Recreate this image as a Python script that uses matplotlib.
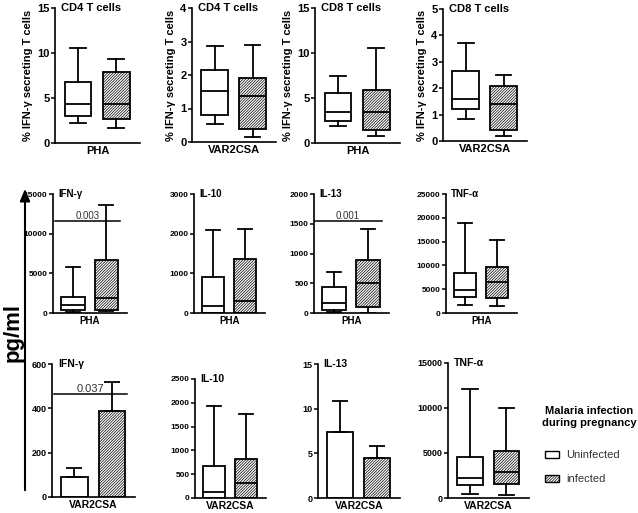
import matplotlib.pyplot as plt
from matplotlib.patches import Patch, FancyArrowPatch

plt.rcParams['font.family'] = ['Liberation Sans', 'DejaVu Sans']
plt.rcParams['font.weight'] = 'bold'
plt.rcParams['axes.labelweight'] = 'bold'
plt.rcParams['hatch.linewidth'] = 0.5

W, H = 638, 513
groups = ["Uninfected", "infected"]

# box stats per group: [whislo, q1, med, q3, whishi]
cd4_pha = [[2.2, 3.05, 4.3, 6.8, 10.6], [1.65, 2.7, 4.3, 7.9, 9.3]]
cd4_var = [[0.55, 0.82, 1.52, 2.15, 2.88], [0.15, 0.4, 1.38, 1.92, 2.9]]
cd8_pha = [[1.84, 2.43, 3.4, 5.5, 7.46], [0.77, 1.4, 3.4, 5.9, 10.5]]
cd8_var = [[0.82, 1.23, 1.59, 2.66, 3.72], [0.19, 0.43, 1.42, 2.1, 2.5]]

ifng_pha = [[130, 340, 970, 2000, 5800], [200, 420, 1890, 6700, 13600]]
il10_pha = [[0, 0, 180, 920, 2090], [0, 0, 290, 1360, 2110]]
il13_pha = [[11, 56, 168, 437, 684], [0, 95, 504, 885, 1417]]
tnfa_pha = [[1600, 3400, 4800, 8300, 19000], [1400, 3200, 6500, 9700, 15400]]

il10_var = [[0, 0, 127, 669, 1937], [0, 0, 324, 810, 1761]]
tnfa_var = [[480, 1400, 2200, 4600, 12100], [370, 1600, 2900, 5200, 10000]]

# bar panels: mean and upper error
ifng_var_mean = [88, 388]
ifng_var_err = [45, 132]
il13_var_mean = [7.4, 4.46]
il13_var_err = [3.5, 1.4]

# p-values and line height
sig_ifng_pha = ("0.003", 11600)
sig_il13_pha = ("0.001", 1552)
sig_ifng_var = ("0.037", 463)

HATCH = "////////////"

fig = plt.figure(figsize=(W / 100, H / 100), dpi=100)


def add_panel(left, right, top, bottom):
    return fig.add_axes([left / W, 1 - bottom / H, (right - left) / W, (bottom - top) / H])


def style(ax, ymax, yticks, title, xlabel, fs_tick, fs_lab, ylabel=None):
    ax.set_xlim(0.4, 2.62)
    ax.set_ylim(0, ymax)
    ax.set_yticks(yticks)
    ax.set_yticklabels([str(t) for t in yticks], fontweight="bold", fontsize=fs_tick)
    ax.set_xticks([])
    for s in ["top", "right"]:
        ax.spines[s].set_visible(False)
    for s in ["left", "bottom"]:
        ax.spines[s].set_linewidth(1.2)
    ax.tick_params(axis="y", length=3, width=1.1, pad=1)
    ax.set_xlabel(xlabel, fontsize=fs_lab, fontweight="bold", labelpad=2)
    ax.text(0.07, 1.0, title, transform=ax.transAxes, fontsize=fs_lab,
            fontweight="bold", ha="left", va="center")
    if ylabel:
        ax.set_ylabel(ylabel, fontsize=fs_lab, fontweight="bold", labelpad=3)
    ax.patch.set_alpha(0)


def draw_box(ax, data, width=0.7):
    stats = [dict(whislo=d[0], q1=d[1], med=d[2], q3=d[3], whishi=d[4], fliers=[])
             for d in data]
    parts = ax.bxp(stats, positions=[1, 2], widths=width, capwidths=0.42,
                   patch_artist=True, showfliers=False,
                   boxprops=dict(linewidth=1.3, edgecolor="black"),
                   whiskerprops=dict(linewidth=1.3),
                   capprops=dict(linewidth=1.3),
                   medianprops=dict(color="black", linewidth=1.3))
    parts["boxes"][0].set_facecolor("white")
    parts["boxes"][1].set_facecolor("white")
    parts["boxes"][1].set_hatch(HATCH)


def draw_bar(ax, mean, err, width=0.7):
    bars = ax.bar([1, 2], mean, width=width, color="white", edgecolor="black",
                  linewidth=1.3, yerr=[[0, 0], err], capsize=6,
                  error_kw=dict(elinewidth=1.3, capthick=1.3))
    bars[1].set_hatch(HATCH)


def draw_sig(ax, sig, x0, x1, fs):
    label, y = sig
    ax.plot([x0, x1], [y, y], color="black", lw=1.1)
    ax.text((x0 + x1) / 2, y, label, ha="center", va="bottom", fontsize=fs,
            fontweight="normal", color="#333333")


ylab = "% IFN-\u03b3 secreting T cells"

# top row
ax = add_panel(55, 140, 8, 143)
draw_box(ax, cd4_pha)
style(ax, 15, [0, 5, 10, 15], "CD4 T cells", "PHA", 8, 8, ylab)
ax = add_panel(192, 276, 8, 142)
draw_box(ax, cd4_var)
style(ax, 4, [0, 1, 2, 3, 4], "CD4 T cells", "VAR2CSA", 8, 8, ylab)
ax = add_panel(315, 400, 8, 143)
draw_box(ax, cd8_pha)
style(ax, 15, [0, 5, 10, 15], "CD8 T cells", "PHA", 8, 8, ylab)
ax = add_panel(443, 527, 9, 141)
draw_box(ax, cd8_var)
style(ax, 5, [0, 1, 2, 3, 4, 5], "CD8 T cells", "VAR2CSA", 8, 8, ylab)

# middle row
ax = add_panel(53, 127, 194, 313)
draw_box(ax, ifng_pha)
style(ax, 15000, [0, 5000, 10000, 15000], "IFN-\u03b3", "PHA", 6, 7)
draw_sig(ax, sig_ifng_pha, 0.45, 2.42, 7)
ax = add_panel(194, 265, 194, 313)
draw_box(ax, il10_pha)
style(ax, 3000, [0, 1000, 2000, 3000], "IL-10", "PHA", 6, 7)
ax = add_panel(314, 389, 194, 313)
draw_box(ax, il13_pha)
style(ax, 2000, [0, 500, 1000, 1500, 2000], "IL-13", "PHA", 6, 7)
draw_sig(ax, sig_il13_pha, 0.4, 2.4, 7)
ax = add_panel(446, 517, 194, 313)
draw_box(ax, tnfa_pha)
style(ax, 25000, [0, 5000, 10000, 15000, 20000, 25000], "TNF-\u03b1", "PHA", 6, 7)

# bottom row
ax = add_panel(52, 135, 364, 497)
draw_bar(ax, ifng_var_mean, ifng_var_err)
style(ax, 600, [0, 200, 400, 600], "IFN-\u03b3", "VAR2CSA", 6.5, 7.5)
draw_sig(ax, sig_ifng_var, 0.45, 2.4, 8)
ax = add_panel(195, 266, 379, 498)
draw_box(ax, il10_var)
style(ax, 2500, [0, 500, 1000, 1500, 2000, 2500], "IL-10", "VAR2CSA", 6, 7.5)
ax = add_panel(318, 400, 364, 498)
draw_bar(ax, il13_var_mean, il13_var_err)
style(ax, 15, [0, 5, 10, 15], "IL-13", "VAR2CSA", 6.5, 7.5)
ax = add_panel(448, 529, 363, 498)
draw_box(ax, tnfa_var)
style(ax, 15000, [0, 5000, 10000, 15000], "TNF-\u03b1", "VAR2CSA", 6.5, 7.5)

# shared y label with arrow
fig.add_artist(FancyArrowPatch((25 / W, 1 - 493 / H), (25 / W, 1 - 186 / H),
                               transform=fig.transFigure,
                               arrowstyle="-|>,head_length=0.6,head_width=0.25",
                               mutation_scale=12, lw=1.5, color="black"))
fig.text(13 / W, 1 - 332 / H, "pg/ml", rotation=90, fontsize=16,
         fontweight="bold", ha="center", va="center")

# legend
fig.text(589 / W, 1 - 417 / H, "Malaria infection\nduring pregnancy",
         ha="center", va="center", fontsize=8, fontweight="bold", linespacing=1.3)
handles = [Patch(facecolor="white", edgecolor="black", linewidth=1.0),
           Patch(facecolor="white", edgecolor="black", linewidth=1.0, hatch=HATCH)]
leg = fig.legend(handles, groups, loc="upper left",
                 bbox_to_anchor=(535 / W, 1 - 440 / H), frameon=False,
                 prop=dict(size=8, weight="normal"), labelspacing=1.3,
                 handlelength=1.3, handleheight=0.6, handletextpad=0.6)
for t in leg.get_texts():
    t.set_color("#333333")

plt.savefig("out.png", dpi=100)
